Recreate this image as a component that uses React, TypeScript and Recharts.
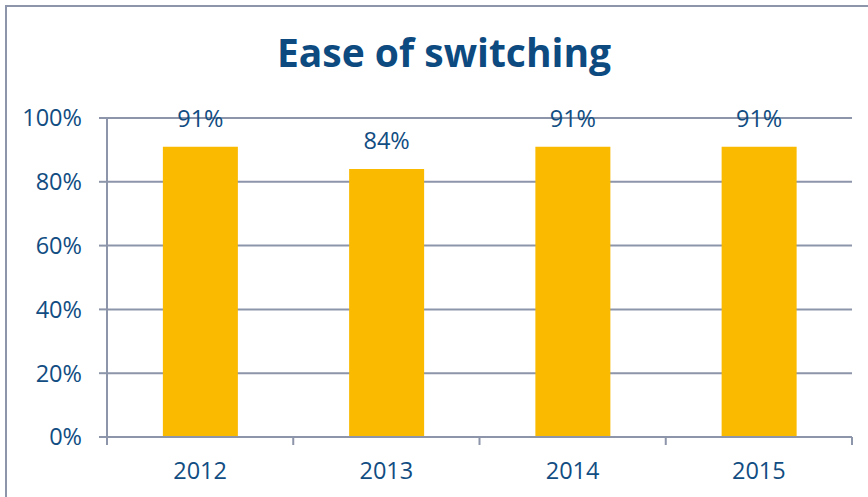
import React from 'react';
import { BarChart, Bar, XAxis, YAxis, CartesianGrid, LabelList } from 'recharts';

const years = ['2012', '2013', '2014', '2015'];
const shares = [91, 84, 91, 91];
const yTicks = [0, 20, 40, 60, 80, 100];

const TEXT = '#114d82';
const LINE = '#8c95a9';
const BAR = '#f9ba00';
const FONT = '"Open Sans", sans-serif';
const TICK_SIZE = 8;
const TICK_MARGIN = 17;

const data = years.map((year, i) => ({ year, share: shares[i] }));

// category label plus tick marks at the band edges (not at the centre)
const YearTick = (props: any) => {
  const { x, y, payload, index, visibleTicksCount, width } = props;
  const half = payload && payload.offset ? payload.offset : width / visibleTicksCount / 2;
  const axisY = y - TICK_SIZE - TICK_MARGIN;
  return (
    <g>
      <line x1={x - half} x2={x - half} y1={axisY} y2={axisY + TICK_SIZE} stroke={LINE} strokeWidth={2} />
      {index === visibleTicksCount - 1 && (
        <line x1={x + half} x2={x + half} y1={axisY} y2={axisY + TICK_SIZE} stroke={LINE} strokeWidth={2} />
      )}
      <text x={x} y={y} dy="0.71em" textAnchor="middle" fill={TEXT} fontSize={23.5} fontFamily={FONT}>
        {payload.value}
      </text>
    </g>
  );
};

export default function App() {
  return (
    <div style={{ position: 'absolute', left: 0, top: 0, width: 868, height: 497, overflow: 'hidden', background: '#fff', fontFamily: FONT }}>
      <div style={{ position: 'absolute', left: 5, top: 5, width: 900, height: 520, border: `2px solid ${LINE}` }} />
      <div style={{ position: 'absolute', left: 0, top: 27, width: 888, textAlign: 'center', fontSize: 39, fontWeight: 700, color: '#0c4a80', lineHeight: '50px' }}>
        Ease of switching
      </div>
      <div style={{ position: 'absolute', left: 0, top: 0 }}>
        <BarChart width={868} height={497} data={data} margin={{ top: 118, right: 16, bottom: 0, left: 0 }} barCategoryGap="30%">
          <CartesianGrid horizontal vertical={false} stroke={LINE} strokeWidth={2} />
          <XAxis
            dataKey="year"
            height={60}
            axisLine={{ stroke: LINE, strokeWidth: 2 }}
            tickLine={false}
            tickSize={TICK_SIZE}
            tickMargin={TICK_MARGIN}
            interval={0}
            tick={<YearTick />}
          />
          <YAxis
            width={107}
            domain={[0, 100]}
            ticks={yTicks}
            tickSize={TICK_SIZE}
            tickMargin={17}
            axisLine={{ stroke: LINE, strokeWidth: 2 }}
            tickLine={{ stroke: LINE, strokeWidth: 2 }}
            tickFormatter={(v: number) => `${v}%`}
            tick={{ fill: TEXT, fontSize: 23.5, fontFamily: FONT }}
          />
          <Bar dataKey="share" fill={BAR} isAnimationActive={false}>
            <LabelList
              dataKey="share"
              position="top"
              offset={20}
              formatter={(v: number) => `${v}%`}
              style={{ fill: TEXT, fontSize: 23.5, fontFamily: FONT }}
            />
          </Bar>
        </BarChart>
      </div>
    </div>
  );
}
